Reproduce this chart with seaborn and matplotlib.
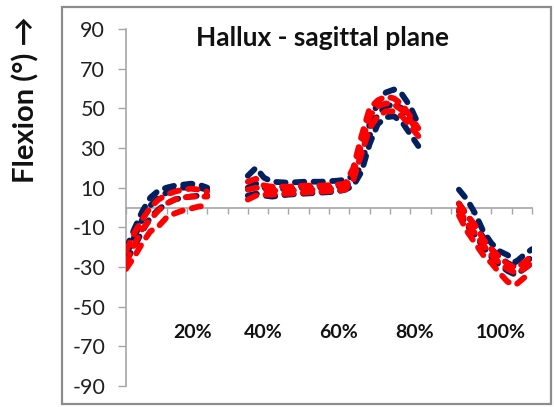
import numpy as np
import pandas as pd
import matplotlib
matplotlib.use("Agg")
import matplotlib.pyplot as plt
from matplotlib.patches import Rectangle
import seaborn as sns

# =====================================
# Data
# =====================================

# percent of cycle for the three visible segments
x_seg1 = [0, 2, 4, 6, 8, 10, 12, 14, 16, 18, 20]
x_seg2 = [30, 32, 34, 36, 40, 44, 48, 52, 54, 56, 58, 60, 62, 64, 66, 68, 70, 72]
x_seg3 = [82, 84, 86, 88, 90, 92, 94, 96, 98, 100]

# navy group: upper, mean, lower
navy_hi_1 = [-21, -11, -2, 5, 8.5, 10, 11, 11.5, 12, 11.5, 10]
navy_mid_1 = [-24, -15, -6, 1, 5, 7.5, 9, 10, 10, 10, 9]
navy_lo_1 = [-27, -20, -12, -5, -1, 2, 4, 5, 5.5, 6, 6]
navy_hi_2 = [16, 20, 15, 13, 12.5, 13, 13, 13.5, 14, 16, 26, 42, 53, 58, 59.5, 57, 51, 42]
navy_mid_2 = [10, 12, 10, 9, 9.5, 10, 10, 10.5, 11, 13, 22, 36, 47, 51, 52, 50, 45, 38]
navy_lo_2 = [6, 7, 6, 5.5, 6.5, 7, 7.5, 8, 9, 11, 18, 32, 42, 45.5, 46, 43, 37, 31]
navy_hi_3 = [9, 4, -3, -12, -18, -22, -24, -27.5, -24, -21]
navy_mid_3 = [2, -4, -9, -15, -21, -25, -28, -30, -28, -25]
navy_lo_3 = [-2, -9, -14, -20, -25, -29, -32, -34, -31, -28]

# red group: upper, mean, lower
red_hi_1 = [-22, -13, -6, 0, 4, 6.5, 8, 9, 9.5, 9, 8]
red_mid_1 = [-28, -19, -11, -6, -1.5, 2, 4, 5, 5.5, 5.5, 5.5]
red_lo_1 = [-31, -25, -18, -12, -9.5, -5, -3, -1.5, -0.5, 0.5, 1]
red_hi_2 = [13, 14.5, 11, 10.5, 10.5, 11, 11, 11.5, 12, 20, 36, 50, 54, 56, 55, 52, 46, 40]
red_mid_2 = [9, 10, 9, 8.5, 8.5, 9, 9, 9.5, 10.5, 17, 32, 46, 51, 52.5, 52, 49, 44, 38]
red_lo_2 = [4, 6, 6.5, 6.5, 7, 7.5, 8, 8.5, 9, 14, 27, 40, 46, 48.5, 48.5, 46, 41, 36]
red_hi_3 = [2, -4, -9, -16, -21, -25, -28.5, -30.5, -28, -24]
red_mid_3 = [-1, -8, -13, -19, -24, -28, -31, -33, -31, -28]
red_lo_3 = [-4, -12, -18, -24, -28, -33, -37.5, -39, -35.5, -33]

pct_labels = ["20%", "40%", "60%", "80%", "100%"]
pct_label_x = [16.3, 33.7, 52.4, 71.1, 92.4]

y_ticks = list(range(-90, 91, 20))

# =====================================
# Style
# =====================================

sns.set_theme(style="white")
plt.rcParams["font.family"] = ["Lato", "DejaVu Sans"]
plt.rcParams["axes.unicode_minus"] = False

NAVY = "#002060"
RED = "#FF0000"
GRID_GRAY = "#a6a6a6"

fig = plt.figure(figsize=(5.54, 4.07), dpi=100)
ax = fig.add_axes([126 / 554, 1 - 386 / 407, (532 - 126) / 554, (386 - 29) / 407])

# outer chart border
fig.patches.append(Rectangle((62 / 554, 1 - 404 / 407), (551 - 62) / 554, (404 - 7) / 407,
                             transform=fig.transFigure, fill=False,
                             edgecolor="#8c8c8c", lw=1.6))

# =====================================
# Lines
# =====================================

groups = [
    (NAVY, [(x_seg1, navy_hi_1), (x_seg1, navy_mid_1), (x_seg1, navy_lo_1),
            (x_seg2, navy_hi_2), (x_seg2, navy_mid_2), (x_seg2, navy_lo_2),
            (x_seg3, navy_hi_3), (x_seg3, navy_mid_3), (x_seg3, navy_lo_3)]),
    (RED, [(x_seg1, red_hi_1), (x_seg1, red_mid_1), (x_seg1, red_lo_1),
           (x_seg2, red_hi_2), (x_seg2, red_mid_2), (x_seg2, red_lo_2),
           (x_seg3, red_hi_3), (x_seg3, red_mid_3), (x_seg3, red_lo_3)]),
]

for color, series in groups:
    for xs, ys in series:
        sns.lineplot(x=xs, y=ys, color=color, lw=4.2, sort=False,
                     estimator=None, ax=ax, zorder=3)
        line = ax.lines[-1]
        line.set_dashes((1.6, 1.6))
        line.set_dash_capstyle("round")
        line.set_solid_capstyle("round")

# =====================================
# Axes
# =====================================

ax.set_xlim(0, 100)
ax.set_ylim(-90, 90)
ax.set_yticks(y_ticks)
ax.set_xticks(np.arange(0, 101, 5))
ax.set_xticklabels([])

for side in ["top", "right"]:
    ax.spines[side].set_visible(False)
ax.spines["left"].set_color(GRID_GRAY)
ax.spines["left"].set_linewidth(1.2)
ax.spines["bottom"].set_position(("data", 0))
ax.spines["bottom"].set_color(GRID_GRAY)
ax.spines["bottom"].set_linewidth(1.2)

ax.tick_params(axis="y", direction="out", length=6, width=1, color=GRID_GRAY,
               pad=9, labelsize=15.5, labelcolor="#202020", left=True)
ax.tick_params(axis="x", direction="out", length=4, width=1, color=GRID_GRAY,
               bottom=True)

for lx, lab in zip(pct_label_x, pct_labels):
    ax.text(lx, -63, lab, ha="center", va="center", fontsize=14,
            fontweight="bold", color="#111111")

ax.text(0.483, 0.975, "Hallux - sagittal plane", transform=ax.transAxes,
        ha="center", va="center", fontsize=19, fontweight="bold", color="#111111")

fig.text(26 / 554, 1 - 100 / 407, "Flexion (°) →", rotation=90,
         ha="center", va="center", fontsize=21, fontweight="bold",
         family=["Lato", "DejaVu Sans"], color="#111111")

plt.savefig("out.png", dpi=100)
plt.close()
